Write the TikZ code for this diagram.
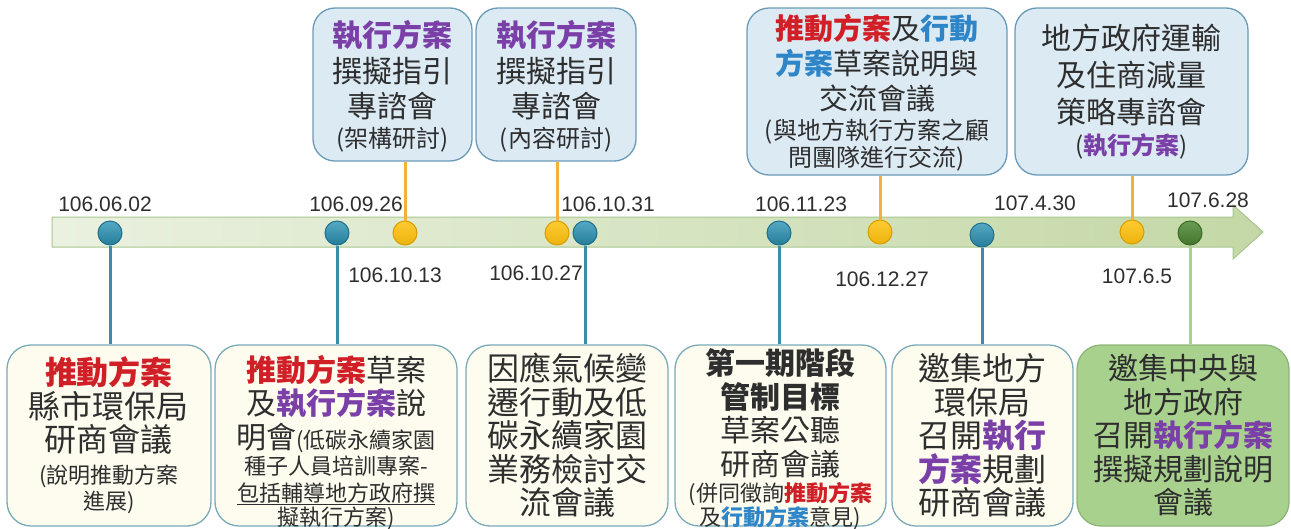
\documentclass[tikz,border=0pt]{standalone}
\usepackage{fontspec}
\setmainfont{Noto Sans CJK TC}
\newfontfamily\datefont{Liberation Sans}
\definecolor{cTxt}{HTML}{2E2E2E}
\definecolor{cRed}{HTML}{D01F26}
\definecolor{cPur}{HTML}{7B3FA8}
\definecolor{cBlu}{HTML}{2E86C8}
\definecolor{cTfill}{HTML}{DCEAF4}
\definecolor{cTdraw}{HTML}{6A9AB8}
\definecolor{cBfill}{HTML}{FDFCEF}
\definecolor{cBdraw}{HTML}{7AAAB8}
\definecolor{cGfill}{HTML}{A9D18E}
\definecolor{cGdraw}{HTML}{8DB577}
\definecolor{cBarL}{HTML}{EAF1E0}
\definecolor{cBarR}{HTML}{C4D8A6}
\definecolor{cBarD}{HTML}{A8C68E}
\definecolor{cDotB}{HTML}{2B93B5}
\definecolor{cDotBd}{HTML}{1E6F8C}
\definecolor{cDotY}{HTML}{FFC20E}
\definecolor{cDotYd}{HTML}{DA9D00}
\definecolor{cDotG}{HTML}{4F8A35}
\definecolor{cDotGd}{HTML}{3A6A26}
\definecolor{cLnB}{HTML}{3A8FA8}
\definecolor{cLnO}{HTML}{F4B13A}
\definecolor{cLnG}{HTML}{A8D08F}
\newcommand\Lg{\fontsize{30pt}{33.5pt}\selectfont}
\newcommand\LgB{\fontsize{32pt}{33.5pt}\selectfont}
\newcommand\Sm{\fontsize{22pt}{26.5pt}\selectfont}
\newcommand\TLg{\fontsize{30pt}{35.5pt}\selectfont}
\newcommand\TLgC{\fontsize{29pt}{35pt}\selectfont}
\newcommand\TSm{\fontsize{24pt}{30pt}\selectfont}
\newcommand\tRed[1]{\textcolor{cRed}{\bfseries #1}}
\newcommand\tPur[1]{\textcolor{cPur}{\bfseries #1}}
\newcommand\tBlu[1]{\textcolor{cBlu}{\bfseries #1}}
\newcommand\boxtxt[2]{\parbox[c][40pt][c]{#1}{\centering #2}}
\tikzset{
  tbox/.style={draw=cTdraw, fill=cTfill, line width=1.3pt, rounded corners=22pt, inner sep=0pt, text=cTxt},
  bbox/.style={draw=cBdraw, fill=cBfill, line width=1.3pt, rounded corners=24pt, inner sep=0pt, text=cTxt},
  gbox/.style={draw=cGdraw, fill=cGfill, line width=1.3pt, rounded corners=24pt, inner sep=0pt, text=cTxt},
  dotbase/.style={circle, minimum size=24pt, inner sep=0pt, line width=1pt},
  bdot/.style={dotbase, draw=cDotBd, top color=cDotB!80!white, bottom color=cDotB!85!black},
  ydot/.style={dotbase, draw=cDotYd, top color=cDotY!85!white, bottom color=cDotY!92!black},
  gdot/.style={dotbase, draw=cDotGd, top color=cDotG!85!white, bottom color=cDotG!85!black},
  bline/.style={draw=cLnB, line width=3pt},
  oline/.style={draw=cLnO, line width=3pt},
  gline/.style={draw=cLnG, line width=3pt},
  datelbl/.style={anchor=base, inner sep=0pt, text=cTxt, font=\datefont\fontsize{21pt}{24pt}\selectfont}
}
\begin{document}
\begin{tikzpicture}[x=1pt, y=-1pt]
\useasboundingbox (0,0) rectangle (1291,528);
% timeline bar with arrow head
\path[draw=cBarD, line width=1pt, left color=cBarL, right color=cBarR]
  (52,217) -- (1233,217) -- (1233,205) -- (1263,232) -- (1233,259) -- (1233,247) -- (52,247) -- cycle;
% top boxes
\node[tbox, minimum width=159pt, minimum height=153pt] (T1) at (392.5,84.5)
  {\boxtxt{155pt}{\vspace*{4pt}{\TLg\tPur{執行方案}\par}{\TLg 撰擬指引\par}{\TLg 專諮會\par}{\TSm (架構研討)\par}}};
\node[tbox, minimum width=160pt, minimum height=153pt] (T2) at (556,84.5)
  {\boxtxt{155pt}{\vspace*{4pt}{\TLg\tPur{執行方案}\par}{\TLg 撰擬指引\par}{\TLg 專諮會\par}{\TSm (內容研討)\par}}};
\node[tbox, minimum width=260pt, minimum height=167pt] (T3) at (877,91.5)
  {\boxtxt{255pt}{\vspace*{2pt}{\TLgC\tRed{推動方案}及\tBlu{行動}\par}{\TLgC\tBlu{方案}草案說明與\par}{\TLgC 交流會議\par}{\TSm (與地方執行方案之顧\par}{\TSm\baselineskip=27pt 問團隊進行交流)\par}}};
\node[tbox, minimum width=233pt, minimum height=167pt] (T4) at (1131.5,91.5)
  {\boxtxt{228pt}{{\TLg\baselineskip=37pt 地方政府運輸\par}{\TLg\baselineskip=37pt 及住商減量\par}{\TLg\baselineskip=37pt 策略專諮會\par}{\TSm\baselineskip=31pt (\tPur{執行方案})\par}}};
% bottom boxes
\node[bbox, minimum width=204pt, minimum height=181pt] (B1) at (109,435.5)
  {\boxtxt{200pt}{{\LgB\tRed{推動方案}\par}{\LgB 縣市環保局\par}{\LgB 研商會議\par}\vspace{5pt}{\Sm (說明推動方案\par}{\Sm 進展)\par}}};
\node[bbox, minimum width=242pt, minimum height=181pt] (B2) at (336,435.5)
  {\boxtxt{238pt}{\vspace*{14pt}{\Lg\tRed{推動方案}草案\par}{\Lg 及\tPur{執行方案}說\par}{\Lg 明會{\Sm (低碳永續家園}\par}{\Sm 種子人員培訓專案-\par}{\Sm\underline{包括輔導地方政府撰}\par}{\Sm\baselineskip=24.5pt 擬執行方案)\par}}};
\node[bbox, minimum width=202pt, minimum height=181pt] (B3) at (567,435.5)
  {\boxtxt{198pt}{{\LgB 因應氣候變\par}{\LgB 遷行動及低\par}{\LgB 碳永續家園\par}{\LgB 業務檢討交\par}{\LgB 流會議\par}}};
\node[bbox, minimum width=211pt, minimum height=181pt] (B4) at (780.5,435.5)
  {\boxtxt{207pt}{\vspace*{8pt}{\Lg\bfseries 第一期階段\par}{\Lg\bfseries 管制目標\par}{\Lg 草案公聽\par}{\Lg 研商會議\par}{\Sm (併同徵詢\tRed{推動方案}\par}{\Sm\baselineskip=24pt 及\tBlu{行動方案}意見)\par}}};
\node[bbox, minimum width=181pt, minimum height=181pt] (B5) at (982.5,435.5)
  {\boxtxt{177pt}{{\LgB 邀集地方\par}{\LgB 環保局\par}{\LgB 召開\tPur{執行}\par}{\LgB\tPur{方案}規劃\par}{\LgB 研商會議\par}}};
\node[gbox, minimum width=212pt, minimum height=181pt] (B6) at (1183,435.5)
  {\boxtxt{208pt}{{\Lg 邀集中央與\par}{\Lg 地方政府\par}{\Lg 召開\tPur{執行方案}\par}{\Lg 撰擬規劃說明\par}{\Lg 會議\par}}};
% milestone dots
\node[bdot] (d1) at (110,233) {};
\node[bdot] (d2) at (337,233) {};
\node[ydot] (d3) at (405,233) {};
\node[ydot] (d4) at (557,233) {};
\node[bdot] (d5) at (585,233) {};
\node[bdot] (d6) at (779,233) {};
\node[ydot] (d7) at (880,232) {};
\node[bdot] (d8) at (982,235) {};
\node[ydot] (d9) at (1132,232) {};
\node[gdot] (d10) at (1190,233) {};
% connectors
\draw[bline] (d1) -- (d1 |- B1.north);
\draw[bline] (d2) -- (d2 |- B2.north);
\draw[oline] (d3) -- (d3 |- T1.south);
\draw[oline] (d4) -- (d4 |- T2.south);
\draw[bline] (d5) -- (d5 |- B3.north);
\draw[bline] (d6) -- (d6 |- B4.north);
\draw[oline] (d7) -- (d7 |- T3.south);
\draw[bline] (d8) -- (d8 |- B5.north);
\draw[oline] (d9) -- (d9 |- T4.south);
\draw[gline] (d10) -- (d10 |- B6.north);
% date labels
\node[datelbl] (l1) at (105,211) {106.06.02};
\node[datelbl] (l2) at (356,211) {106.09.26};
\node[datelbl] (l3) at (395,282) {106.10.13};
\node[datelbl] (l4) at (536,280) {106.10.27};
\node[datelbl] (l5) at (608,211) {106.10.31};
\node[datelbl] (l6) at (801,211) {106.11.23};
\node[datelbl] (l7) at (882,286) {106.12.27};
\node[datelbl] (l8) at (1035,210) {107.4.30};
\node[datelbl] (l9) at (1137,283) {107.6.5};
\node[datelbl] (l10) at (1208,207) {107.6.28};
\end{tikzpicture}
\end{document}
